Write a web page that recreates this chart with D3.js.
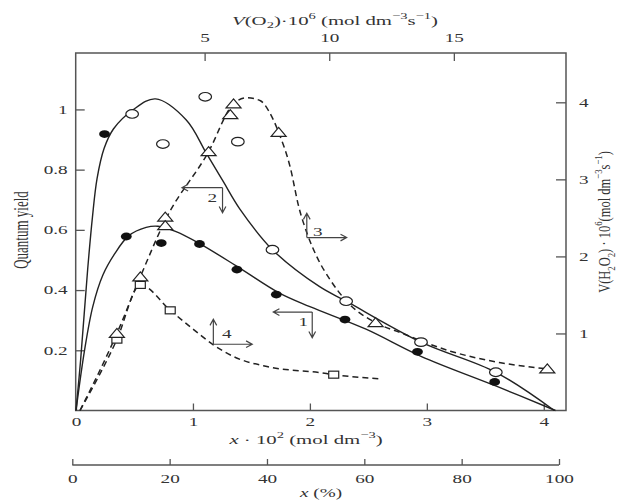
<!DOCTYPE html>
<html>
<head>
<meta charset="utf-8">
<script src="https://d3js.org/d3.v7.min.js"></script>
<style>
body { margin: 0; background: #fff; }
text { font-family: "Liberation Serif", "DejaVu Serif", serif; fill: #333; }
</style>
</head>
<body>
<div id="chart"></div>
<script>
// ---- data ----
// curve 1 : filled circles, quantum yield vs x*10^2
var xFilled = [0.244, 0.43, 0.729, 1.056, 1.376, 1.713, 2.30, 2.92, 3.58];
var qFilled = [0.918, 0.578, 0.556, 0.553, 0.468, 0.385, 0.302, 0.195, 0.095];
var curve1X = [0, 0.073, 0.144, 0.23, 0.33, 0.45, 0.6, 0.7, 0.85, 1.05, 1.4, 1.74, 2.0, 2.48, 2.95, 3.6, 4.1];
var curve1Y = [0, 0.2, 0.346, 0.45, 0.52, 0.58, 0.608, 0.612, 0.595, 0.556, 0.473, 0.39, 0.345, 0.27, 0.18, 0.08, 0];

// curve 2 : open circles, quantum yield vs x*10^2
var xOpen = [0.48, 0.743, 1.105, 1.384, 1.68, 2.31, 2.95, 3.59];
var qOpen = [0.985, 0.885, 1.042, 0.893, 0.534, 0.363, 0.227, 0.127];
var curve2X = [0, 0.04, 0.1, 0.14, 0.18, 0.24, 0.32, 0.486, 0.68, 0.943, 1.114, 1.26, 1.40, 1.68, 2.08, 2.31, 2.95, 3.59, 4.09];
var curve2Y = [0, 0.17, 0.47, 0.64, 0.77, 0.87, 0.935, 0.998, 1.035, 0.965, 0.855, 0.76, 0.67, 0.534, 0.412, 0.363, 0.227, 0.127, 0];

// curve 3 : triangles, V(H2O2) vs V(O2)
var vO2Tri = [1.48, 2.42, 3.42, 3.42, 5.16, 6.03, 6.16, 7.97, 11.86, 18.75];
var vH2O2Tri = [1.0, 1.735, 2.51, 2.40, 3.36, 3.84, 3.98, 3.61, 1.14, 0.54];
var curve3X = [0, 1.48, 2.42, 3.42, 5.16, 6.16, 6.70, 7.24, 7.57, 7.97, 8.44, 8.78, 9.11, 9.51, 10.05, 10.72, 11.86, 12.86, 14.86, 16.88, 18.75];
var curve3Y = [0, 1.0, 1.735, 2.47, 3.36, 3.98, 4.06, 4.02, 3.89, 3.61, 3.15, 2.64, 2.30, 1.99, 1.69, 1.41, 1.14, 1.01, 0.77, 0.62, 0.54];

// curve 4 : squares, V(H2O2) vs V(O2)
var vO2Sq = [1.48, 2.42, 3.62, 10.18];
var vH2O2Sq = [0.92, 1.63, 1.30, 0.465];
var curve4X = [0, 1.48, 2.42, 3.62, 4.56, 5.36, 6.16, 7.5, 9.65, 10.18, 12.12];
var curve4Y = [0, 0.92, 1.63, 1.30, 1.05, 0.85, 0.70, 0.57, 0.49, 0.465, 0.41];

// tick labels
var leftTicks = [0.2, 0.4, 0.6, 0.8, 1];
var bottomTicks = [0, 1, 2, 3, 4];
var topTicks = [5, 10, 15];
var rightTicks = [1, 2, 3, 4];
var pctTicks = [0, 20, 40, 60, 80, 100];

var W = 619, H = 502;
var SX = 1.6;   // the source picture is stretched sideways, so text is too

var svg = d3.select("#chart").append("svg").attr("width", W).attr("height", H);

var x = d3.scaleLinear().domain([0, 4.19]).range([76, 566]);
var xTop = d3.scaleLinear().domain([0, 19.5]).range([80, 566]);
var xPct = d3.scaleLinear().domain([0, 100]).range([72.3, 559]);
var yL = d3.scaleLinear().domain([0, 1.1874]).range([410.5, 53]);
var yR = d3.scaleLinear().domain([0, 4.64]).range([410.5, 53]);

// text with _{sub}, ^{sup} and *{italic}
function rich(g, str, fs) {
  var t = g.append("text").attr("font-size", fs);
  var parts = str.match(/(_\{[^}]*\}|\^\{[^}]*\}|\*\{[^}]*\}|[^_^*]+)/g);
  var shift = 0;
  parts.forEach(function(p) {
    var s = t.append("tspan");
    var want = 0;
    if (p[0] == "_") { want = 0.3; s.attr("font-size", fs * 0.7); p = p.slice(2, -1); }
    else if (p[0] == "^") { want = -0.45; s.attr("font-size", fs * 0.7); p = p.slice(2, -1); }
    else if (p[0] == "*") { s.attr("font-style", "italic"); p = p.slice(2, -1); }
    var d = (want - shift) * fs;
    if (d != 0) s.attr("dy", d);
    shift = want;
    s.text(p);
  });
  return t;
}

function label(px, py, str, fs, rot, sx) {
  var g = svg.append("g")
    .attr("transform", "translate(" + px + "," + py + ") scale(" + (sx || SX) + ",1)" + (rot ? " rotate(" + rot + ")" : ""));
  rich(g, str, fs).attr("text-anchor", "middle").attr("dy", "0.35em");
  return g;
}

function styleAxis(g) {
  g.select(".domain").remove();
  g.attr("font-family", "Liberation Serif, serif").attr("font-size", 12).attr("color", "#555");
  g.selectAll(".tick line").attr("stroke-width", 1.3);
  g.selectAll(".tick text").attr("fill", "#333")
    .attr("transform", "scale(" + SX + ",1)")
    .attr("x", function() { return (+d3.select(this).attr("x") || 0) / SX; });
}

var fmt = d3.format("");

// axes
svg.append("g").attr("transform", "translate(75.7,0)")
  .call(d3.axisLeft(yL).tickValues(leftTicks).tickFormat(fmt).tickSizeInner(-9).tickSizeOuter(0).tickPadding(8))
  .call(styleAxis);
svg.append("g").attr("transform", "translate(0,410.5)")
  .call(d3.axisBottom(x).tickValues(bottomTicks).tickFormat(fmt).tickSizeInner(-7).tickSizeOuter(0).tickPadding(7))
  .call(styleAxis);
svg.append("g").attr("transform", "translate(0,53)")
  .call(d3.axisTop(xTop).tickValues(topTicks).tickFormat(fmt).tickSizeInner(-8).tickSizeOuter(0).tickPadding(11))
  .call(styleAxis);
svg.append("g").attr("transform", "translate(566,0)")
  .call(d3.axisRight(yR).tickValues(rightTicks).tickFormat(fmt).tickSizeInner(-10).tickSizeOuter(0).tickPadding(13))
  .call(styleAxis);

svg.append("rect")
  .attr("x", 75.7).attr("y", 53).attr("width", 566 - 75.7).attr("height", 410.5 - 53)
  .attr("fill", "none").attr("stroke", "#555").attr("stroke-width", 1.5);

var pctAxis = svg.append("g").attr("transform", "translate(0,465)")
  .call(d3.axisBottom(xPct).tickValues(pctTicks).tickFormat(fmt).tickSizeInner(-6).tickSizeOuter(0).tickPadding(9));
pctAxis.call(styleAxis);
pctAxis.append("line").attr("x1", xPct(0)).attr("x2", xPct(100))
  .attr("stroke", "#555").attr("stroke-width", 1.5);

// axis titles
label(335, 20, "*{V}(O_{2})·10^{6} (mol dm^{−3}s^{−1})", 13);
label(306, 439, "*{x} · 10^{2} (mol dm^{−3})", 13);
label(321, 493, "*{x} (%)", 12);
label(21, 230, "Quantum yield", 13, -90);
label(604, 222, "V(H_{2}O_{2}) · 10^{6}(mol dm^{−3}s^{−1})", 12.5, -90, 1.3);

// curves
function pts(xs, ys) { return xs.map(function(v, i) { return [v, ys[i]]; }); }

var lineL = d3.line().x(function(d) { return x(d[0]); }).y(function(d) { return yL(d[1]); })
  .curve(d3.curveCatmullRom.alpha(0.5));
var lineR = d3.line().x(function(d) { return xTop(d[0]); }).y(function(d) { return yR(d[1]); })
  .curve(d3.curveMonotoneX);

svg.append("path").attr("d", lineL(pts(curve1X, curve1Y)))
  .attr("fill", "none").attr("stroke", "#222").attr("stroke-width", 1.4);
svg.append("path").attr("d", lineL(pts(curve2X, curve2Y)))
  .attr("fill", "none").attr("stroke", "#222").attr("stroke-width", 1.4);
svg.append("path").attr("d", lineR(pts(curve3X, curve3Y)))
  .attr("fill", "none").attr("stroke", "#222").attr("stroke-width", 1.5).attr("stroke-dasharray", "6,4");
svg.append("path").attr("d", lineR(pts(curve4X, curve4Y)))
  .attr("fill", "none").attr("stroke", "#222").attr("stroke-width", 1.5).attr("stroke-dasharray", "6,4");

// markers
svg.append("g").selectAll("rect").data(pts(vO2Sq, vH2O2Sq)).join("rect")
  .attr("x", function(d) { return xTop(d[0]) - 5; }).attr("y", function(d) { return yR(d[1]) - 3.5; })
  .attr("width", 10).attr("height", 7)
  .attr("fill", "#fff").attr("stroke", "#222").attr("stroke-width", 1.2);

svg.append("g").selectAll("path").data(pts(vO2Tri, vH2O2Tri)).join("path")
  .attr("d", function(d) {
    var cx = xTop(d[0]), cy = yR(d[1]);
    return "M" + cx + "," + (cy - 5) + "L" + (cx + 7.5) + "," + (cy + 4) + "L" + (cx - 7.5) + "," + (cy + 4) + "Z";
  })
  .attr("fill", "#fff").attr("stroke", "#222").attr("stroke-width", 1.2);

svg.append("g").selectAll("ellipse").data(pts(xOpen, qOpen)).join("ellipse")
  .attr("cx", function(d) { return x(d[0]); }).attr("cy", function(d) { return yL(d[1]); })
  .attr("rx", 6.3).attr("ry", 4.3)
  .attr("fill", "#fff").attr("stroke", "#222").attr("stroke-width", 1.2);

svg.append("g").selectAll("ellipse").data(pts(xFilled, qFilled)).join("ellipse")
  .attr("cx", function(d) { return x(d[0]); }).attr("cy", function(d) { return yL(d[1]); })
  .attr("rx", 5.4).attr("ry", 3.9)
  .attr("fill", "#111");

// curve-to-axis arrows
function arrow(x0, y0, x1, y1) {
  var a = Math.atan2(y1 - y0, x1 - x0), L = 7, s = 0.5;
  var p = "M" + x0 + "," + y0 + "L" + x1 + "," + y1 +
    "M" + (x1 - L * Math.cos(a - s)) + "," + (y1 - L * Math.sin(a - s)) + "L" + x1 + "," + y1 +
    "L" + (x1 - L * Math.cos(a + s)) + "," + (y1 - L * Math.sin(a + s));
  svg.append("path").attr("d", p).attr("fill", "none").attr("stroke", "#444").attr("stroke-width", 1.2);
}
// 1 and 2 point to left/bottom axes, 3 and 4 to top/right axes
arrow(x(2.02), yL(0.327), x(1.687), yL(0.327));
arrow(x(2.02), yL(0.327), x(2.02), yL(0.242));
label(x(1.944), yL(0.296), "1", 12);
arrow(x(1.253), yL(0.74), x(0.906), yL(0.74));
arrow(x(1.253), yL(0.74), x(1.253), yL(0.657));
label(x(1.165), yL(0.707), "2", 12);
arrow(xTop(9.10), yR(2.245), xTop(9.10), yR(2.56));
arrow(xTop(9.10), yR(2.245), xTop(10.70), yR(2.245));
label(xTop(9.54), yR(2.317), "3", 12);
arrow(xTop(5.35), yR(0.86), xTop(5.35), yR(1.185));
arrow(xTop(5.35), yR(0.86), xTop(6.91), yR(0.86));
label(xTop(5.89), yR(0.99), "4", 12);
</script>
</body>
</html>
